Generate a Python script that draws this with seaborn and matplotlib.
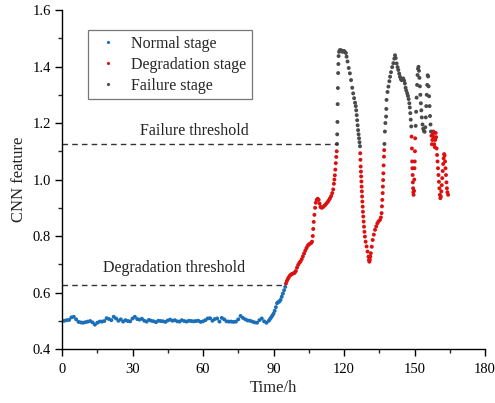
import numpy as np
import pandas as pd
import matplotlib
matplotlib.use("Agg")
import matplotlib.pyplot as plt
from matplotlib.ticker import MultipleLocator
import seaborn as sns

# ---- CNN feature readings, split by stage ----
normal_t = [0, 1, 2, 3, 4, 5, 6, 7, 8, 9, 10, 11, 12, 13, 14, 15, 16, 17, 18, 19,
            20, 21, 22, 23, 24, 25, 26, 27, 28, 29, 30, 31, 32, 33, 34, 35, 36, 37, 38, 39,
            40, 41, 42, 43, 44, 45, 46, 47, 48, 49, 50, 51, 52, 53, 54, 55, 56, 57, 58, 59,
            60, 61, 62, 63, 64, 65, 66, 67, 68, 69, 70, 71, 72, 73, 74, 75, 76, 77, 78, 79,
            80, 81, 82, 83, 84, 85, 86, 87, 88, 88.5, 89, 89.5, 90, 90.5, 91, 91.5, 92, 92.5,
            93, 93.5, 94, 94.5, 95]
normal_v = [0.499, 0.500, 0.502, 0.503, 0.512, 0.514, 0.505, 0.496, 0.494, 0.493,
            0.495, 0.497, 0.499, 0.494, 0.486, 0.493, 0.497, 0.497, 0.499, 0.509,
            0.506, 0.502, 0.514, 0.508, 0.500, 0.505, 0.497, 0.502, 0.499, 0.498,
            0.508, 0.514, 0.506, 0.504, 0.507, 0.500, 0.497, 0.503, 0.500, 0.498,
            0.495, 0.500, 0.499, 0.498, 0.496, 0.501, 0.504, 0.500, 0.502, 0.498,
            0.497, 0.502, 0.499, 0.497, 0.500, 0.499, 0.498, 0.499, 0.500, 0.496,
            0.498, 0.502, 0.508, 0.509, 0.500, 0.506, 0.508, 0.497, 0.510, 0.505,
            0.498, 0.497, 0.497, 0.496, 0.497, 0.505, 0.517, 0.510, 0.505, 0.501,
            0.500, 0.497, 0.494, 0.493, 0.502, 0.508, 0.498, 0.493, 0.500, 0.506,
            0.512, 0.518, 0.525, 0.535, 0.548, 0.562, 0.566, 0.568,
            0.574, 0.585, 0.596, 0.608, 0.620]

degradation_t = [95.3, 95.7, 96.1, 96.5, 97.0, 97.5, 98.0, 98.5, 99.0, 99.5,
                 100.0, 100.5, 101.0, 101.5, 102.0, 102.5, 103.0, 103.5, 104.0, 104.5,
                 105.0, 105.5, 106.0, 106.4, 106.7, 106.9, 107.1, 107.4, 107.7, 108.0,
                 108.4, 108.8, 109.2, 109.6, 110.0, 110.5, 111.0, 111.5, 112.0, 112.5,
                 113.0, 113.5, 114.0, 114.5, 115.0, 115.4, 115.7, 115.9, 116.1, 116.3,
                 116.5, 116.7, 116.9,
                 126.9, 127.0, 127.1, 127.2, 127.3, 127.4, 127.5, 127.6, 127.7, 127.8,
                 127.95, 128.05, 128.2, 128.35, 128.5, 128.7, 128.9, 129.2, 129.6, 130.0,
                 130.4, 130.6, 130.8, 131.0, 131.2, 131.4, 131.8, 132.2, 132.7, 133.2,
                 133.7, 134.2, 134.7, 135.3, 135.7, 136.0, 136.15, 136.3, 136.45, 136.55,
                 136.65, 136.75, 136.85, 137.0, 137.1,
                 148.75, 148.9, 149.0, 149.1, 149.2, 149.3, 149.4, 149.5, 149.6,
                 149.8, 149.9, 150.0, 150.1, 150.2, 150.3,
                 157.2, 157.4, 157.6, 157.8, 158.0, 158.2, 158.4, 158.6, 158.8, 159.0,
                 159.2, 159.4, 159.6, 159.8, 160.0, 160.2, 160.4, 160.6, 160.8, 161.0,
                 161.2, 161.4, 161.6, 161.8, 162.0, 162.2, 162.4, 162.6, 162.8, 163.0,
                 163.2, 163.4, 163.6, 163.8, 164.0, 164.3]
degradation_v = [0.632, 0.641, 0.648, 0.654, 0.660, 0.664, 0.666, 0.668, 0.670, 0.676,
                 0.688, 0.698, 0.705, 0.710, 0.718, 0.728, 0.738, 0.748, 0.757, 0.765,
                 0.770, 0.773, 0.775, 0.780, 0.800, 0.825, 0.850, 0.875, 0.900, 0.918,
                 0.928, 0.932, 0.928, 0.915, 0.903, 0.900, 0.902, 0.906, 0.910, 0.915,
                 0.920, 0.926, 0.933, 0.941, 0.952, 0.965, 0.985, 1.000, 1.015, 1.035,
                 1.058, 1.080, 1.100,
                 1.093, 1.070, 1.046, 1.028, 1.011, 0.993, 0.975, 0.958, 0.940, 0.922,
                 0.904, 0.886, 0.869, 0.851, 0.833, 0.815, 0.798, 0.780, 0.763, 0.745,
                 0.727, 0.715, 0.709, 0.716, 0.727, 0.739, 0.762, 0.786, 0.805, 0.822,
                 0.834, 0.845, 0.852, 0.857, 0.866, 0.881, 0.905, 0.928, 0.952, 0.975,
                 0.998, 1.022, 1.050, 1.081, 1.104,
                 1.152, 1.110, 1.064, 1.040, 1.016, 0.990, 0.969, 0.955, 0.946,
                 0.960, 1.000, 1.040, 1.064, 1.100, 1.146,
                 1.155, 1.125, 1.140, 1.160, 1.170, 1.150, 1.125, 1.115, 1.140, 1.165,
                 1.150, 1.110, 1.087, 1.064, 1.040, 1.016, 0.992, 0.969, 0.946, 0.934,
                 0.940, 0.958, 0.980, 1.005, 1.030, 1.055, 1.075, 1.090, 1.085, 1.064,
                 1.040, 1.016, 0.990, 0.969, 0.955, 0.946]

failure_t = [117.0, 117.1, 117.2, 117.3, 117.4, 117.5, 117.6, 117.7, 117.9, 118.2,
             118.6, 119.0, 119.4, 119.7, 120.0, 120.4, 120.8, 121.1, 121.5, 122.0,
             122.5, 123.0, 123.5, 123.9, 124.3, 124.7, 125.0, 125.2, 125.4, 125.6,
             125.8, 126.0, 126.2, 126.4, 126.6, 126.8,
             137.2, 137.4, 137.6, 137.9, 138.0, 138.1, 138.5, 138.9, 139.3, 139.6,
             140.0, 140.5, 141.0, 141.4, 141.7, 142.0, 142.4, 142.8, 143.1, 143.5,
             143.8, 144.2, 144.5, 144.9, 145.2, 145.6, 145.9, 146.2, 146.5, 146.9,
             147.2, 147.5, 147.8, 148.0, 148.2, 148.4, 148.6,
             150.5, 150.7, 150.9, 151.1, 151.3, 151.5, 151.7, 151.9, 152.1, 152.3,
             152.5, 152.7, 152.9, 153.1, 153.4, 153.7, 154.0, 154.3, 154.6, 154.8,
             155.0, 155.2, 155.4, 155.6, 155.8, 156.0, 156.2, 156.4, 156.6, 156.8,
             157.0]
failure_v = [1.126, 1.160, 1.204, 1.267, 1.324, 1.377, 1.409, 1.437, 1.452, 1.458,
             1.458, 1.456, 1.452, 1.455, 1.455, 1.452, 1.448, 1.435, 1.418, 1.395,
             1.376, 1.352, 1.325, 1.305, 1.288, 1.272, 1.260, 1.245, 1.228, 1.210,
             1.192, 1.175, 1.160, 1.146, 1.132, 1.118,
             1.126, 1.170, 1.200, 1.223, 1.250, 1.282, 1.310, 1.329, 1.348, 1.364,
             1.380, 1.398, 1.412, 1.428, 1.440, 1.430, 1.411, 1.398, 1.388, 1.375,
             1.364, 1.356, 1.352, 1.356, 1.358, 1.350, 1.340, 1.325, 1.315, 1.305,
             1.296, 1.285, 1.270, 1.255, 1.235, 1.212, 1.188,
             1.190, 1.240, 1.290, 1.335, 1.370, 1.392, 1.399, 1.385, 1.360, 1.330,
             1.300, 1.270, 1.245, 1.220, 1.195, 1.180, 1.172, 1.169, 1.185, 1.220,
             1.260, 1.300, 1.335, 1.369, 1.365, 1.330, 1.295, 1.260, 1.225, 1.195,
             1.170]

stage_names = ["Normal stage", "Degradation stage", "Failure stage"]
stage_colors = ["#1a6fb8", "#dd1010", "#4a4a4a"]

degradation_threshold = 0.625
failure_threshold = 1.125

df = pd.DataFrame({
    "Time/h": normal_t + degradation_t + failure_t,
    "CNN feature": normal_v + degradation_v + failure_v,
    "stage": ([stage_names[0]] * len(normal_t)
              + [stage_names[1]] * len(degradation_t)
              + [stage_names[2]] * len(failure_t)),
})

sns.set_theme(style="ticks")
plt.rcParams["font.family"] = ["Liberation Serif", "DejaVu Serif"]

fig = plt.figure(figsize=(4.95, 4.03), dpi=100)
ax = fig.add_axes([0.1253, 0.134, 0.8545, 0.841])

sns.scatterplot(data=df, x="Time/h", y="CNN feature", hue="stage",
                hue_order=stage_names, palette=dict(zip(stage_names, stage_colors)),
                s=8, linewidth=0, edgecolor="none", ax=ax, legend=True)

# threshold lines
ax.plot([0, 117.3], [failure_threshold, failure_threshold], ls=(0, (4, 3)),
        color="#333333", lw=1.0, zorder=1)
ax.plot([0, 95.0], [degradation_threshold, degradation_threshold], ls=(0, (4, 3)),
        color="#333333", lw=1.0, zorder=1)
ax.text(56.2, 1.172, "Failure threshold", ha="center", va="center",
        fontsize=11.5, color="#222222")
ax.text(47.7, 0.687, "Degradation threshold", ha="center", va="center",
        fontsize=11.5, color="#222222")

ax.set_xlim(0, 180)
ax.set_ylim(0.4, 1.6)
ax.xaxis.set_major_locator(MultipleLocator(30))
ax.xaxis.set_minor_locator(MultipleLocator(15))
ax.yaxis.set_major_locator(MultipleLocator(0.2))
ax.yaxis.set_minor_locator(MultipleLocator(0.1))
ax.yaxis.set_major_formatter(matplotlib.ticker.FormatStrFormatter("%.1f"))
ax.tick_params(which="major", direction="out", length=5, width=1, labelsize=10.5,
               colors="black", pad=3)
ax.tick_params(axis="x", which="major", pad=5)
ax.tick_params(which="minor", direction="out", length=3, width=1)
for side in ["top", "right"]:
    ax.spines[side].set_visible(False)
for side in ["left", "bottom"]:
    ax.spines[side].set_color("black")
    ax.spines[side].set_linewidth(1.0)

ax.set_xlabel("Time/h", fontsize=12, labelpad=3)
ax.set_ylabel("CNN feature", fontsize=12, labelpad=4)

handles, labels = ax.get_legend_handles_labels()
leg = ax.legend(handles, labels, loc="upper left", bbox_to_anchor=(0.061, 0.941),
                borderaxespad=0, frameon=True, fancybox=False, fontsize=11.5,
                markerscale=0.8, handletextpad=0.5, labelspacing=0.32,
                borderpad=0.35, handlelength=1.85)
leg.get_frame().set_edgecolor("#555555")
leg.get_frame().set_linewidth(0.9)

fig.savefig("out.png", dpi=100)
